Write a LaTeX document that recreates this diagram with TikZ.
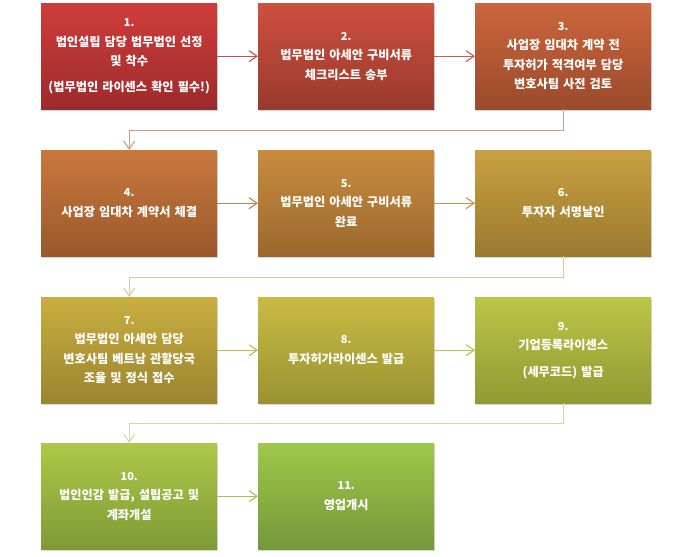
\documentclass[tikz,border=0pt]{standalone}
\usepackage{fontspec}
\newfontfamily\kr{Noto Sans CJK KR}
\usetikzlibrary{arrows.meta,shadows}
\definecolor{t1}{HTML}{D03C3C}\definecolor{b1}{HTML}{9C2B2B}
\definecolor{t2}{HTML}{CD5040}\definecolor{b2}{HTML}{983A2C}
\definecolor{t3}{HTML}{CC663D}\definecolor{b3}{HTML}{9A4A2C}
\definecolor{t4}{HTML}{C9783C}\definecolor{b4}{HTML}{9A582C}
\definecolor{t5}{HTML}{C98C3E}\definecolor{b5}{HTML}{9A682E}
\definecolor{t6}{HTML}{C9A040}\definecolor{b6}{HTML}{9A7A2F}
\definecolor{t7}{HTML}{C9AE40}\definecolor{b7}{HTML}{9A8530}
\definecolor{t8}{HTML}{C8BC44}\definecolor{b8}{HTML}{9A9232}
\definecolor{t9}{HTML}{BCC545}\definecolor{b9}{HTML}{8F9A33}
\definecolor{t10}{HTML}{AEC848}\definecolor{b10}{HTML}{7E9A36}
\definecolor{t11}{HTML}{9DC84A}\definecolor{b11}{HTML}{74983A}
\definecolor{c12}{HTML}{C0504D}\definecolor{c23}{HTML}{C46049}
\definecolor{c34}{HTML}{D9977F}\definecolor{c45}{HTML}{C8804A}
\definecolor{c56}{HTML}{C8924C}\definecolor{c67}{HTML}{D8C9A0}
\definecolor{c78}{HTML}{C8B450}\definecolor{c89}{HTML}{C4BE50}
\definecolor{c910}{HTML}{D2DAA4}\definecolor{c1011}{HTML}{A2C255}
\tikzset{
  stepbox/.style={anchor=north west, minimum width=176pt, minimum height=106pt,
    inner sep=2pt, text=white, align=center, text width=172pt,
    font=\kr\bfseries\fontsize{12.2}{19.5}\selectfont,
    drop shadow={shadow xshift=1.2pt, shadow yshift=-1.8pt, opacity=0.25, fill=black!60}},
  conn/.style={line width=1.1pt, -{Straight Barb[length=8pt,width=11pt,line width=1.1pt]}}
}
\newcommand{\stepnum}[1]{{\fontsize{11}{19.5}\selectfont #1}}
\begin{document}
\begin{tikzpicture}[x=1pt,y=1pt]
\useasboundingbox[fill=white] (0,0) rectangle (692,-556);
\node[stepbox, top color=t1, bottom color=b1] (n1) at (41,-3)
  {\stepnum{1.}\\법인설립 담당 법무법인 선정\\및 착수\\[6pt](법무법인 라이센스 확인 필수!)};
\node[stepbox, top color=t2, bottom color=b2] (n2) at (258,-3)
  {\stepnum{2.}\\법무법인 아세안 구비서류\\체크리스트 송부};
\node[stepbox, top color=t3, bottom color=b3] (n3) at (475,-3)
  {\stepnum{3.}\\사업장 임대차 계약 전\\투자허가 적격여부 담당\\변호사팀 사전 검토};
\node[stepbox, top color=t4, bottom color=b4] (n4) at (41,-150)
  {\stepnum{4.}\\사업장 임대차 계약서 체결};
\node[stepbox, top color=t5, bottom color=b5] (n5) at (258,-150)
  {\stepnum{5.}\\법무법인 아세안 구비서류\\완료};
\node[stepbox, top color=t6, bottom color=b6] (n6) at (475,-150)
  {\stepnum{6.}\\투자자 서명날인};
\node[stepbox, top color=t7, bottom color=b7] (n7) at (41,-297)
  {\stepnum{7.}\\법무법인 아세안 담당\\변호사팀 베트남 관할당국\\조율 및 정식 접수};
\node[stepbox, top color=t8, bottom color=b8] (n8) at (258,-297)
  {\stepnum{8.}\\투자허가라이센스 발급};
\node[stepbox, top color=t9, bottom color=b9] (n9) at (475,-297)
  {\stepnum{9.}\\기업등록라이센스\\[7pt](세무코드) 발급};
\node[stepbox, top color=t10, bottom color=b10] (n10) at (41,-443)
  {\stepnum{10.}\\법인인감 발급, 설립공고 및\\계좌개설};
\node[stepbox, top color=t11, bottom color=b11] (n11) at (258,-443)
  {\stepnum{11.}\\영업개시};
\draw[conn, c12] (n1.east) -- (n2.west);
\draw[conn, c23] (n2.east) -- (n3.west);
\draw[conn, c34] (n3.south) -- ++(0,-21) -| (n4.north);
\draw[conn, c45] (n4.east) -- (n5.west);
\draw[conn, c56] (n5.east) -- (n6.west);
\draw[conn, c67] (n6.south) -- ++(0,-21) -| (n7.north);
\draw[conn, c78] (n7.east) -- (n8.west);
\draw[conn, c89] (n8.east) -- (n9.west);
\draw[conn, c910] (n9.south) -- ++(0,-20) -| (n10.north);
\draw[conn, c1011] (n10.east) -- (n11.west);
\end{tikzpicture}
\end{document}
